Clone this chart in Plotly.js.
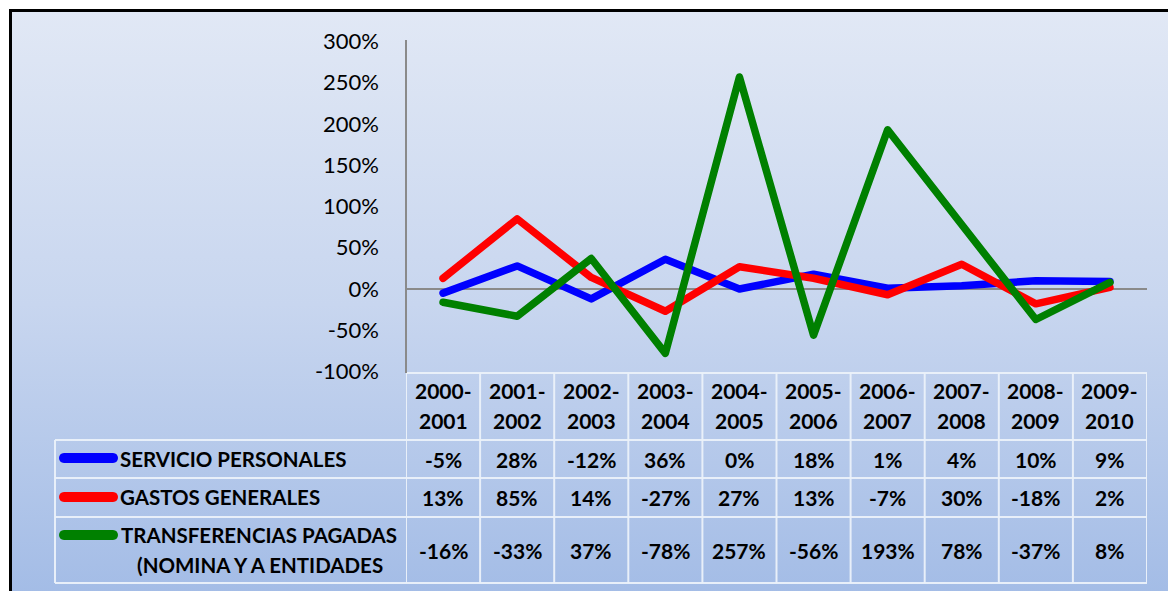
<!DOCTYPE html>
<html>
<head>
<meta charset="utf-8">
<script src="https://cdn.plot.ly/plotly-3.0.1.min.js"></script>
<style>
  html, body { margin: 0; padding: 0; width: 1168px; height: 591px; overflow: hidden; background: #ffffff; }
  #frame { position: absolute; left: 9px; top: 9px; width: 1170px; height: 590px; box-sizing: border-box;
    border: 3px solid #000; background: linear-gradient(to bottom, #e1e8f5 0%, #c8d6ef 50%, #a3bce6 100%); }
  #chart { position: absolute; left: 0; top: 0; width: 1168px; height: 591px; }
  .js-line { stroke-linejoin: round !important; stroke-linecap: round !important; }
</style>
</head>
<body>
<div id="frame"></div>
<div id="chart"></div>
<script>
// ---- data ----
const periods = ['2000-2001','2001-2002','2002-2003','2003-2004','2004-2005','2005-2006','2006-2007','2007-2008','2008-2009','2009-2010'];
const seriesNames = ['SERVICIO PERSONALES','GASTOS GENERALES','TRANSFERENCIAS PAGADAS','(NOMINA Y A ENTIDADES'];
const servicio = [-5, 28, -12, 36, 0, 18, 1, 4, 10, 9];
const gastos = [13, 85, 14, -27, 27, 13, -7, 30, -18, 2];
const transferencias = [-16, -33, 37, -78, 257, -56, 193, 78, -37, 8];
const yTicks = [-100, -50, 0, 50, 100, 150, 200, 250, 300];
const colors = ['#0000ff', '#ff0000', '#008000'];

// ---- helpers (pixel -> paper) ----
const W = 1168, H = 591;
const px = x => x / W;
const py = y => 1 - y / H;

const traces = [servicio, gastos, transferencias].map((vals, k) => ({
  type: 'scatter', mode: 'lines', x: periods, y: vals,
  line: { color: colors[k], width: 7.5 }, hoverinfo: 'skip', showlegend: false
}));

const FONT = 'Lato, "Liberation Sans", sans-serif';
const TXT = { family: FONT, size: 21, color: '#000' };
const LEG = { family: FONT, size: 20.5, color: '#000' };
const bold = s => '<b>' + s + '</b>';

const shapes = [];
const annotations = [];
const gridColor = 'rgba(235,241,250,0.95)';
function hline(y, x0, x1) {
  shapes.push({ type: 'line', xref: 'paper', yref: 'paper', x0: px(x0), x1: px(x1), y0: py(y), y1: py(y), line: { color: gridColor, width: 2 } });
}
// table horizontal lines
hline(373, 406, 1147);
[440, 478, 517, 583].forEach(y => hline(y, 55, 1147));
// left border of legend column
shapes.push({ type: 'line', xref: 'paper', yref: 'paper', x0: px(55), x1: px(55), y0: py(440), y1: py(583), line: { color: gridColor, width: 2 } });
// column boundaries through the x scale
for (let i = 0; i <= periods.length; i++) {
  shapes.push({ type: 'line', xref: 'x', yref: 'paper', x0: i - 0.5, x1: i - 0.5, y0: py(373), y1: py(583), line: { color: gridColor, width: 2 } });
}
// y axis line
shapes.push({ type: 'line', xref: 'paper', yref: 'paper', x0: px(406), x1: px(406), y0: py(40), y1: py(373), line: { color: '#8a8a8a', width: 2 } });

// legend samples (rounded bars)
const legendY = [458, 497, 535];
legendY.forEach((y, k) => {
  const x0 = 64, x1 = 113, r = 5;
  const path = 'M' + px(x0) + ',' + py(y - r) + ' L' + px(x1) + ',' + py(y - r) +
    ' C' + px(x1 + r * 1.33) + ',' + py(y - r) + ' ' + px(x1 + r * 1.33) + ',' + py(y + r) + ' ' + px(x1) + ',' + py(y + r) +
    ' L' + px(x0) + ',' + py(y + r) +
    ' C' + px(x0 - r * 1.33) + ',' + py(y + r) + ' ' + px(x0 - r * 1.33) + ',' + py(y - r) + ' ' + px(x0) + ',' + py(y - r) + ' Z';
  shapes.push({ type: 'path', xref: 'paper', yref: 'paper', path: path, fillcolor: colors[k], line: { width: 0 } });
});

// legend labels
annotations.push({ xref: 'paper', yref: 'paper', x: px(118), y: py(459), xanchor: 'left', yanchor: 'middle', text: bold(seriesNames[0]), showarrow: false, font: LEG });
annotations.push({ xref: 'paper', yref: 'paper', x: px(118), y: py(497), xanchor: 'left', yanchor: 'middle', text: bold(seriesNames[1]), showarrow: false, font: LEG });
annotations.push({ xref: 'paper', yref: 'paper', x: px(259), y: py(535), xanchor: 'center', yanchor: 'middle', text: bold(seriesNames[2]), showarrow: false, font: LEG });
annotations.push({ xref: 'paper', yref: 'paper', x: px(260), y: py(565), xanchor: 'center', yanchor: 'middle', text: bold(seriesNames[3]), showarrow: false, font: LEG });

// header and values
const rowsY = [459, 497.5, 550];
periods.forEach((p, i) => {
  const parts = p.split('-');
  annotations.push({ xref: 'x', yref: 'paper', x: p, y: py(391), xanchor: 'center', yanchor: 'middle', text: bold(parts[0] + '-'), showarrow: false, font: TXT });
  annotations.push({ xref: 'x', yref: 'paper', x: p, y: py(420), xanchor: 'center', yanchor: 'middle', text: bold(parts[1]), showarrow: false, font: TXT });
  [servicio, gastos, transferencias].forEach((vals, k) => {
    annotations.push({ xref: 'x', yref: 'paper', x: p, y: py(rowsY[k]), xanchor: 'center', yanchor: 'middle', text: bold(vals[i] + '%'), showarrow: false, font: TXT });
  });
});

const layout = {
  width: W, height: H,
  margin: { l: 0, r: 0, t: 0, b: 0 },
  paper_bgcolor: 'rgba(0,0,0,0)', plot_bgcolor: 'rgba(0,0,0,0)',
  showlegend: false,
  xaxis: { type: 'category', domain: [px(406), px(1147)], range: [-0.5, periods.length - 0.5],
    showticklabels: false, showgrid: false, zeroline: false, showline: false, ticks: '', fixedrange: true },
  yaxis: { domain: [py(371.5), py(41.5)], range: [-100, 300], tickvals: yTicks, ticktext: yTicks.map(v => v + '%'),
    showgrid: false, zeroline: true, zerolinecolor: '#8a8a8a', zerolinewidth: 2, showline: false, ticks: '',
    ticklabelstandoff: 26, tickfont: { family: FONT, size: 22, color: '#000' }, fixedrange: true },
  shapes: shapes,
  annotations: annotations
};

Plotly.newPlot('chart', traces, layout, { staticPlot: true, displayModeBar: false });
</script>
</body>
</html>
